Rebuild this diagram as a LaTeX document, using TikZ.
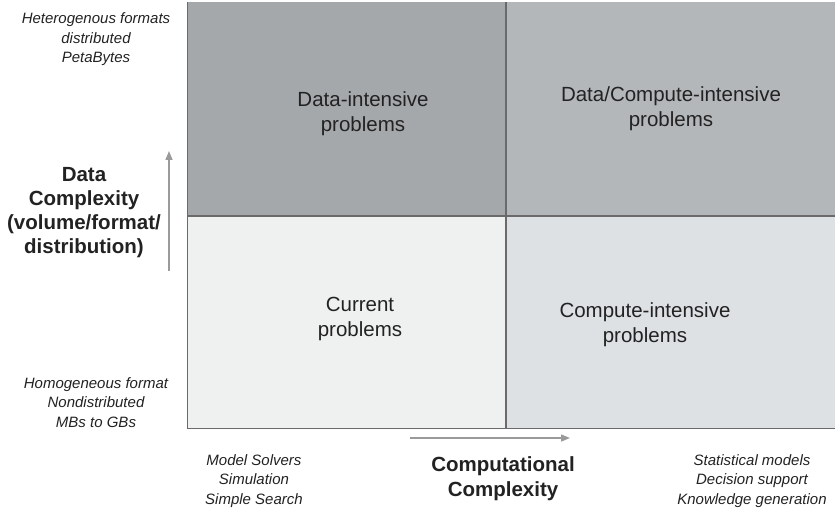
\documentclass[tikz,border=0pt]{standalone}
\usepackage{fontspec}
\setmainfont{Liberation Sans}
\usetikzlibrary{arrows.meta}
\definecolor{dataq}{HTML}{A5A8AB}
\definecolor{bothq}{HTML}{B4B7BA}
\definecolor{currq}{HTML}{EFF1F1}
\definecolor{compq}{HTML}{DEE1E4}
\definecolor{gridline}{HTML}{6A6A6A}
\definecolor{axisgray}{HTML}{9A9A9A}
\definecolor{ink}{HTML}{222222}
% multi-line labels are placed by the baseline of their last line
\tikzset{
  quadlabel/.style={anchor=base, align=center, text=ink, inner sep=0pt,
    font=\fontsize{20.5}{25}\selectfont},
  axislabel/.style={anchor=base, align=center, text=ink, inner sep=0pt,
    font=\fontsize{20.5}{24.3}\selectfont\bfseries},
  scalelabel/.style={anchor=base, align=center, text=ink, inner sep=0pt,
    font=\fontsize{15}{19.5}\selectfont\itshape},
  axisarrow/.style={draw=axisgray, line width=1.4pt,
    -{Triangle[length=9pt,width=7pt]}},
}
\begin{document}
\begin{tikzpicture}[x=1pt,y=-1pt]
\useasboundingbox (0,0) rectangle (835,510);
% quadrant fills
\fill[dataq] (187,2) rectangle (506,216);
\fill[bothq] (506,2) rectangle (835,216);
\fill[currq] (187,216) rectangle (506,428);
\fill[compq] (506,216) rectangle (835,428);
% grid lines
\draw[gridline, line width=1pt] (187,2) -- (187,428) -- (835,428);
\draw[gridline, line width=1.6pt] (506,2) -- (506,428);
\draw[gridline, line width=1.6pt] (187,216) -- (835,216);

% quadrant labels
\node[quadlabel] (dataint) at (363,132) {Data-intensive\\problems};
\node[quadlabel] (bothint) at (671,127) {Data/Compute-intensive\\problems};
\node[quadlabel] (current) at (360,337) {Current\\problems};
\node[quadlabel] (compint) at (645,343) {Compute-intensive\\problems};

% vertical axis
\coordinate (vfrom) at (169,271);
\coordinate (vto) at (169,151);
\draw[axisarrow] (vfrom) -- (vto);
\node[axislabel] (ylabel) at (84,254) {Data\\Complexity\\(volume/format/\\distribution)};
\node[scalelabel] (yhigh) at (96,63) {Heterogenous formats\\distributed\\PetaBytes};
\node[scalelabel] (ylow) at (96,427) {Homogeneous format\\Nondistributed\\MBs to GBs};

% horizontal axis
\coordinate (hfrom) at (410,438);
\coordinate (hto) at (570,438);
\draw[axisarrow] (hfrom) -- (hto);
\node[axislabel] (xlabel) at (503,496) {Computational\\Complexity};
\node[scalelabel] (xlow) at (254,504) {Model Solvers\\Simulation\\Simple Search};
\node[scalelabel] (xhigh) at (752,504) {Statistical models\\Decision support\\Knowledge generation};
\end{tikzpicture}
\end{document}
